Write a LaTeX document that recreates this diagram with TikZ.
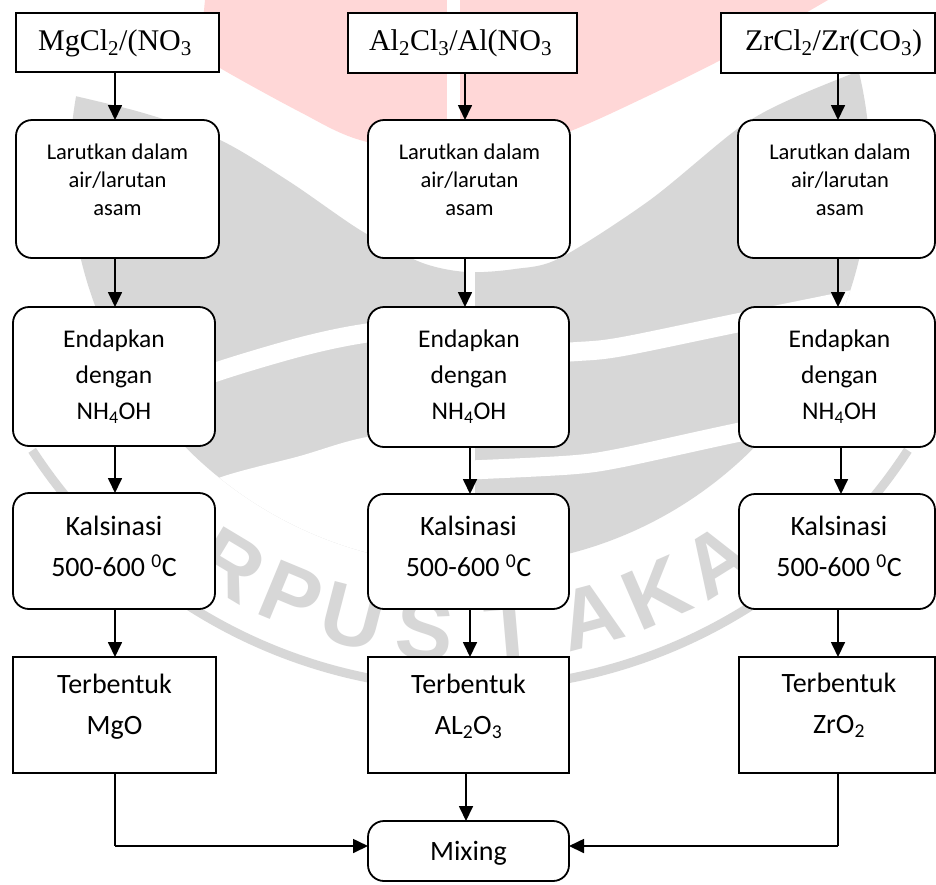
\documentclass[tikz,border=0pt]{standalone}
\usepackage{fontspec}
\setmainfont{Carlito}
\newfontfamily\chemserif{Liberation Serif}
\newfontfamily\wmfont{Liberation Sans}
\usetikzlibrary{arrows.meta,calc}
\definecolor{wmgray}{HTML}{D7D7D7}
\definecolor{wmpink}{HTML}{FFD7D7}
\begin{document}
\begin{tikzpicture}[x=1pt,y=-1pt,
  every node/.style={inner sep=0pt,outer sep=0pt},
  rbox/.style={draw,line width=1.8pt,rounded corners=16pt,fill=white},
  sbox/.style={draw,line width=1.8pt,fill=white},
  arr/.style={line width=1.7pt,-{Triangle[width=14pt,length=15pt]}},
  lnk/.style={line width=1.7pt},
  toptxt/.style={anchor=base,font=\chemserif\fontsize{30}{36}\selectfont},
  lartxt/.style={align=center,font=\fontsize{22.5}{28}\selectfont},
  endtxt/.style={align=center,font=\fontsize{25.5}{36}\selectfont},
  bigtxt/.style={align=center,font=\fontsize{28}{41}\selectfont},
  wmletter/.style={text=wmgray,font=\wmfont\bfseries\fontsize{86}{86}\selectfont},
]
\fill[white] (0,0) rectangle (936,884);
\useasboundingbox (0,0) rectangle (936,884);

% ---------- background watermark ----------
\fill[wmpink] (205,0) -- (828,0) -- plot[smooth] coordinates
  {(828,0) (740,50) (650,95) (560,135) (465,160) (360,140) (300,112) (220,68) (200,52)} -- cycle;
\draw[white,line width=13pt] (453,-5) -- (453,185);
\begin{scope}
  \clip (470,166) circle (400);
  \fill[wmgray] plot[smooth] coordinates
    {(40,88) (140,112) (220,140) (290,182) (360,230) (420,262) (466,272) (515,269)
     (560,258) (650,200) (740,127) (800,95) (900,55)} -- (900,700) -- (40,700) -- cycle;
  % left swooshes
  \draw[white,line width=19pt] plot[smooth] coordinates
    {(40,470) (130,405) (213,373) (300,347) (367,333) (470,322)};
  \fill[white] plot[smooth] coordinates
    {(60,600) (140,520) (213,480) (300,456) (367,437) (470,425)} -- (470,700) -- (40,700) -- cycle;
  % right swooshes
  \draw[white,line width=19pt] plot[smooth] coordinates
    {(470,358) (570,352) (620,347) (737,323) (900,290)};
  \draw[white,line width=19pt] plot[smooth] coordinates
    {(470,470) (570,465) (620,458) (740,432) (900,400)};
  \draw[white,line width=10pt] (470,240) -- (470,600);
\end{scope}
\draw[wmgray,line width=9pt] (470,166) ++(147:522) arc (147:33:522);
\foreach \ch/\ang [count=\i] in {R/121,P/112.5,U/104.5,S/95.5,T/85,A/75,K/66.5,A/58}{
  \node[wmletter,rotate=90-\ang] (wl\i) at ({470+466*cos(\ang)},{166+466*sin(\ang)}) {\ch};
}

% ---------- column 1 ----------
\node[sbox,minimum width=203pt,minimum height=59pt] (a1) at (117.5,42.5) {};
\node[toptxt] (a1t) at (115,50) {MgCl\textsubscript{2}/(NO\textsubscript{3}};
\node[rbox,minimum width=203pt,minimum height=138pt] (b1) at (117.5,189) {};
\node[lartxt] (b1t) at (117.5,180) {Larutkan dalam\\air/larutan\\asam};
\node[rbox,minimum width=202pt,minimum height=139pt] (c1) at (114,376.5) {};
\node[endtxt] (c1t) at (114,377) {Endapkan\\dengan\\NH\textsubscript{4}OH};
\node[rbox,minimum width=202pt,minimum height=116pt] (d1) at (114,551) {};
\node[bigtxt] (d1t) at (114,546) {Kalsinasi\\500-600 \textsuperscript{0}C};
\node[sbox,minimum width=203pt,minimum height=116pt] (e1) at (114.5,715) {};
\node[bigtxt] (e1t) at (114.5,707) {Terbentuk\\MgO};

% ---------- column 2 ----------
\node[sbox,minimum width=229pt,minimum height=60pt] (a2) at (462.5,43) {};
\node[toptxt] (a2t) at (460.5,50) {Al\textsubscript{2}Cl\textsubscript{3}/Al(NO\textsubscript{3}};
\node[rbox,minimum width=202pt,minimum height=138pt] (b2) at (469,189) {};
\node[lartxt] (b2t) at (469.5,180) {Larutkan dalam\\air/larutan\\asam};
\node[rbox,minimum width=201pt,minimum height=140pt] (c2) at (468.5,377) {};
\node[endtxt] (c2t) at (469,377) {Endapkan\\dengan\\NH\textsubscript{4}OH};
\node[rbox,minimum width=201pt,minimum height=115pt] (d2) at (468.5,551.5) {};
\node[bigtxt] (d2t) at (468.5,546) {Kalsinasi\\500-600 \textsuperscript{0}C};
\node[sbox,minimum width=201pt,minimum height=116pt] (e2) at (468.5,715) {};
\node[bigtxt] (e2t) at (468.5,706) {Terbentuk\\AL\textsubscript{2}O\textsubscript{3}};
\node[rbox,minimum width=201pt,minimum height=60pt] (mix) at (468.5,851) {};
\node[bigtxt,anchor=base] (mixt) at (468.5,860) {Mixing};

% ---------- column 3 ----------
\node[sbox,minimum width=214pt,minimum height=60pt] (a3) at (828,43) {};
\node[toptxt] (a3t) at (833.5,50) {ZrCl\textsubscript{2}/Zr(CO\textsubscript{3})};
\node[rbox,minimum width=197pt,minimum height=138pt] (b3) at (836.5,189) {};
\node[lartxt] (b3t) at (840,180) {Larutkan dalam\\air/larutan\\asam};
\node[rbox,minimum width=196pt,minimum height=140pt] (c3) at (837,377) {};
\node[endtxt] (c3t) at (839.5,377) {Endapkan\\dengan\\NH\textsubscript{4}OH};
\node[rbox,minimum width=196pt,minimum height=115pt] (d3) at (837,551.5) {};
\node[bigtxt] (d3t) at (839,546) {Kalsinasi\\500-600 \textsuperscript{0}C};
\node[sbox,minimum width=196pt,minimum height=116pt] (e3) at (837,715) {};
\node[bigtxt] (e3t) at (839,705) {Terbentuk\\ZrO\textsubscript{2}};

% ---------- arrow columns ----------
\coordinate (x1) at (115,0);
\coordinate (x2) at (465,0);
\coordinate (x2b) at (470,0);
\coordinate (x2c) at (466,0);
\coordinate (x3) at (838,0);
\coordinate (x3b) at (841,0);

\draw[arr] (a1.south -| x1) -- (b1.north -| x1);
\draw[arr] (b1.south -| x1) -- (c1.north -| x1);
\draw[arr] (c1.south -| x1) -- (d1.north -| x1);
\draw[arr] (d1.south -| x1) -- (e1.north -| x1);

\draw[arr] (a2.south -| x2) -- (b2.north -| x2);
\draw[arr] (b2.south -| x2) -- (c2.north -| x2);
\draw[arr] (c2.south -| x2b) -- (d2.north -| x2b);
\draw[arr] (d2.south -| x2b) -- (e2.north -| x2b);
\draw[arr] (e2.south -| x2c) -- (mix.north -| x2c);

\draw[arr] (a3.south -| x3) -- (b3.north -| x3);
\draw[arr] (b3.south -| x3) -- (c3.north -| x3);
\draw[arr] (c3.south -| x3b) -- (d3.north -| x3b);
\draw[arr] (d3.south -| x3) -- (e3.north -| x3);

% ---------- joins to mixing ----------
\coordinate (jl) at (115,846);
\coordinate (jr) at (838,846);
\draw[lnk] (e1.south -| jl) -- (jl);
\draw[arr] (jl) -- (mix.west |- jl);
\draw[lnk] (e3.south -| jr) -- (jr);
\draw[arr] (jr) -- (mix.east |- jr);
\end{tikzpicture}
\end{document}
